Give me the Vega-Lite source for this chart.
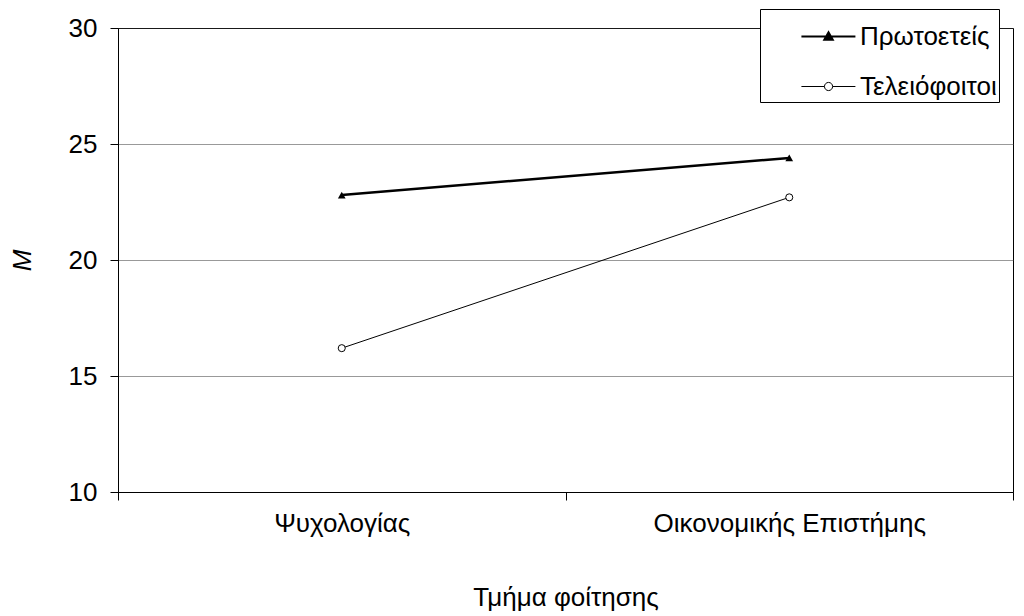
{
  "$schema": "https://vega.github.io/schema/vega-lite/v6.json",
  "width": 895,
  "height": 464,
  "autosize": {"type": "none"},
  "padding": {"left": 118, "top": 28, "right": 11, "bottom": 124},
  "background": "white",
  "config": {
    "font": "Liberation Sans",
    "view": {"stroke": "black", "strokeWidth": 1}
  },
  "data": {
    "values": [
      {"dept": "Ψυχολογίας", "group": "Πρωτοετείς", "M": 22.8},
      {"dept": "Οικονομικής Επιστήμης", "group": "Πρωτοετείς", "M": 24.4},
      {"dept": "Ψυχολογίας", "group": "Τελειόφοιτοι", "M": 16.2},
      {"dept": "Οικονομικής Επιστήμης", "group": "Τελειόφοιτοι", "M": 22.7}
    ]
  },
  "encoding": {
    "x": {
      "field": "dept",
      "type": "nominal",
      "sort": ["Ψυχολογίας", "Οικονομικής Επιστήμης"],
      "scale": {"type": "band", "paddingInner": 0, "paddingOuter": 0},
      "axis": {
        "title": "Τμήμα φοίτησης",
        "labelAngle": 0,
        "labelFontSize": 26,
        "labelColor": "black",
        "labelPadding": 10,
        "labelLimit": 500,
        "tickBand": "extent",
        "tickSize": 8,
        "tickColor": "black",
        "domainColor": "black",
        "grid": false,
        "titleFontSize": 26,
        "titleFontWeight": "normal",
        "titleColor": "black",
        "titlePadding": 48
      }
    },
    "y": {
      "field": "M",
      "type": "quantitative",
      "scale": {"domain": [10, 30]},
      "axis": {
        "title": "M",
        "titleFontStyle": "italic",
        "titleFontWeight": "normal",
        "titleFontSize": 26,
        "titleColor": "black",
        "titlePadding": 33,
        "values": [10, 15, 20, 25, 30],
        "labelFontSize": 26,
        "labelColor": "black",
        "labelPadding": 13,
        "tickSize": 8,
        "tickColor": "black",
        "domainColor": "black",
        "grid": true,
        "gridColor": "#333333",
        "gridDash": [1, 1],
        "gridWidth": 1
      }
    }
  },
  "layer": [
    {
      "mark": {"type": "line", "color": "black"},
      "encoding": {
        "detail": {"field": "group", "type": "nominal"},
        "strokeWidth": {
          "condition": {"test": "datum.group === 'Πρωτοετείς'", "value": 2.5},
          "value": 1
        }
      }
    },
    {
      "transform": [{"filter": "datum.group === 'Πρωτοετείς'"}],
      "mark": {"type": "point", "shape": "triangle-up", "filled": true, "color": "black", "opacity": 1, "size": 60}
    },
    {
      "transform": [{"filter": "datum.group === 'Τελειόφοιτοι'"}],
      "mark": {"type": "point", "shape": "circle", "fill": "white", "stroke": "black", "strokeWidth": 1, "opacity": 1, "size": 50}
    },
    {
      "transform": [{"filter": "false"}],
      "mark": {"type": "point", "filled": true, "opacity": 1},
      "encoding": {
        "shape": {
          "field": "group",
          "type": "nominal",
          "scale": {
            "domain": ["Πρωτοετείς", "Τελειόφοιτοι"],
            "range": [
              "M0.58,0H2.83M1.71,-0.17L1.88,0.13H1.54Z",
              "M0.58,0H1.54M1.88,0H2.83M1.54,0A0.17,0.17 0 1,0 1.88,0A0.17,0.17 0 1,0 1.54,0"
            ]
          },
          "legend": {
            "title": null,
            "orient": "none",
            "legendX": 642,
            "legendY": -19,
            "padding": 2,
            "strokeColor": "black",
            "fillColor": "white",
            "symbolSize": 2304,
            "symbolOpacity": 1,
            "labelOffset": 47,
            "labelFontSize": 26,
            "labelColor": "black",
            "labelLimit": 400,
            "labelExpr": "datum.label + '\u00a0\u00a0\u00a0\u00a0\u00a0\u00a0'",
            "rowPadding": 12
          }
        },
        "fill": {
          "field": "group",
          "type": "nominal",
          "scale": {"domain": ["Πρωτοετείς", "Τελειόφοιτοι"], "range": ["black", "white"]}
        },
        "stroke": {
          "field": "group",
          "type": "nominal",
          "scale": {"domain": ["Πρωτοετείς", "Τελειόφοιτοι"], "range": ["black", "black"]}
        },
        "strokeWidth": {
          "field": "group",
          "type": "nominal",
          "scale": {"domain": ["Πρωτοετείς", "Τελειόφοιτοι"], "range": [2.2, 1]}
        }
      }
    }
  ]
}
